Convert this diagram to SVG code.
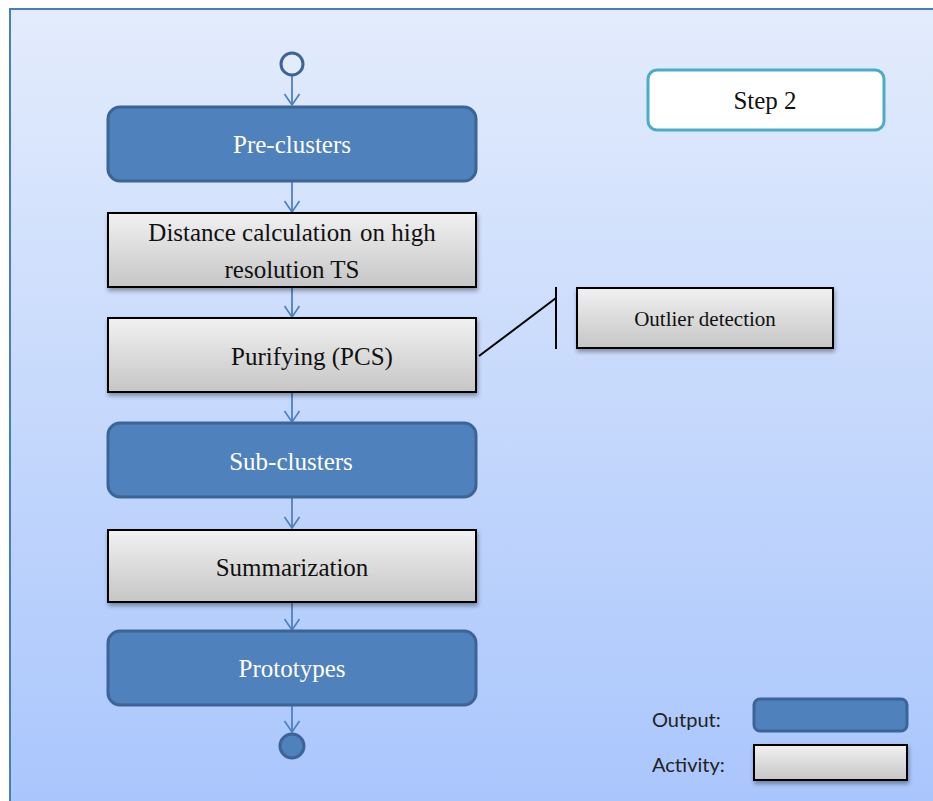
<svg xmlns="http://www.w3.org/2000/svg" width="933" height="801" viewBox="0 0 933 801">
  <defs>
    <linearGradient id="panelFill" x1="0" y1="0" x2="0" y2="1">
      <stop offset="0" stop-color="#e3ecfc"/>
      <stop offset="1" stop-color="#a8c5fc"/>
    </linearGradient>
    <linearGradient id="activityFill" x1="0" y1="0" x2="0" y2="1">
      <stop offset="0" stop-color="#f1f1f1"/>
      <stop offset="1" stop-color="#c6c6c6"/>
    </linearGradient>
    <filter id="shadow" x="-10%" y="-20%" width="120%" height="150%">
      <feDropShadow dx="1" dy="3" stdDeviation="2" flood-color="#000" flood-opacity="0.35"/>
    </filter>
    <!-- open "V" arrowhead, drawn pointing along +x so orient=auto turns it -->
    <marker id="arrow" markerWidth="18" markerHeight="18" refX="14" refY="9" orient="auto" markerUnits="userSpaceOnUse" viewBox="0 0 18 18">
      <path d="M3,1.5 L14,9 L3,16.5" fill="none" stroke="#4f81bd" stroke-width="1.7"/>
    </marker>
  </defs>
  <style>
    .output { fill: #4f81bd; stroke: #3c6496; stroke-width: 3; }
    .activity { fill: url(#activityFill); stroke: #000; stroke-width: 2; filter: url(#shadow); }
    .flow { stroke: #4f81bd; stroke-width: 1.8; fill: none; marker-end: url(#arrow); }
    .label { font-family: "Liberation Serif", "Times New Roman", serif; font-size: 25px; text-anchor: middle; }
    .light { fill: #ffffff; }
    .dark { fill: #111; }
    .legend { font-family: Lato, "Liberation Sans", sans-serif; font-size: 20px; fill: #222; }
  </style>

  <!-- background panel -->
  <rect x="10" y="9" width="940" height="810" fill="url(#panelFill)" stroke="#4a7ebb" stroke-width="2"/>

  <!-- connectors -->
  <g id="connectors">
    <line class="flow" x1="292" y1="76" x2="292" y2="105"/>
    <line class="flow" x1="292" y1="182" x2="292" y2="212"/>
    <line class="flow" x1="292" y1="288" x2="292" y2="317"/>
    <line class="flow" x1="292" y1="393" x2="292" y2="422"/>
    <line class="flow" x1="292" y1="498" x2="292" y2="528"/>
    <line class="flow" x1="292" y1="603" x2="292" y2="630"/>
    <line class="flow" x1="292" y1="706" x2="292" y2="732"/>
    <!-- annotation link to outlier detection -->
    <line x1="479" y1="356" x2="556" y2="298" stroke="#000" stroke-width="2"/>
    <line x1="556" y1="287" x2="556" y2="349" stroke="#000" stroke-width="2"/>
  </g>

  <g id="start">
    <circle cx="292" cy="64" r="11" fill="#e3ecfc" stroke="#3c6496" stroke-width="3"/>
  </g>

  <g id="pre-clusters">
    <rect class="output" x="108" y="107" width="368" height="74" rx="12"/>
    <text class="label light" x="292" y="153">Pre-clusters</text>
  </g>

  <g id="distance-calculation">
    <rect class="activity" x="108" y="213" width="368" height="74"/>
    <text class="label dark" x="292" y="241">Distance calculation <tspan dx="2">on high</tspan></text>
    <text class="label dark" x="292" y="278">resolution TS</text>
  </g>

  <g id="purifying">
    <rect class="activity" x="108" y="318" width="368" height="74"/>
    <text class="label dark" x="312" y="365">Purifying (PCS)</text>
  </g>

  <g id="outlier-detection">
    <rect class="activity" x="577" y="288" width="256" height="60"/>
    <text class="label dark" x="705" y="326" style="font-size:21px">Outlier detection</text>
  </g>

  <g id="sub-clusters">
    <rect class="output" x="108" y="423" width="368" height="74" rx="12"/>
    <text class="label light" x="291" y="470">Sub-clusters</text>
  </g>

  <g id="summarization">
    <rect class="activity" x="108" y="530" width="368" height="72"/>
    <text class="label dark" x="292" y="576">Summarization</text>
  </g>

  <g id="prototypes">
    <rect class="output" x="108" y="631" width="368" height="74" rx="12"/>
    <text class="label light" x="292" y="677">Prototypes</text>
  </g>

  <g id="end">
    <circle cx="292" cy="746" r="12" fill="#4f81bd" stroke="#3c6496" stroke-width="3"/>
  </g>

  <g id="step-label">
    <rect x="648" y="70" width="236" height="60" rx="9" fill="#fff" stroke="#4bacc6" stroke-width="3"/>
    <text class="label dark" x="765" y="109">Step 2</text>
  </g>

  <g id="legend">
    <text class="legend" x="652" y="727">Output:</text>
    <rect class="output" x="754" y="699" width="153" height="32" rx="6"/>
    <text class="legend" x="652" y="772">Activity:</text>
    <rect class="activity" x="754" y="745" width="153" height="35"/>
  </g>
</svg>
